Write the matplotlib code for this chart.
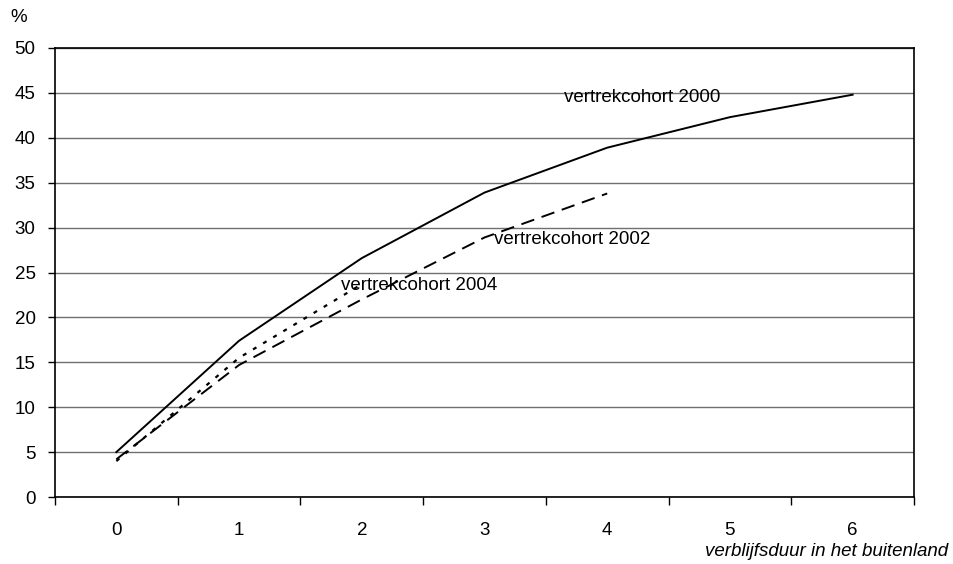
import numpy as np
import matplotlib.pyplot as plt

plt.rcParams['font.family'] = ['Liberation Sans', 'DejaVu Sans']

# duur in jaren (categorie-as)
duur = [0, 1, 2, 3, 4, 5, 6]

# percentage per vertrekcohort
cohort_2000 = [5.0, 17.4, 26.6, 33.9, 38.9, 42.3, 44.8]
cohort_2002 = [4.2, 14.7, 22.0, 28.9, 33.8]
cohort_2004 = [4.0, 15.5, 23.7]

fig = plt.figure(figsize=(9.54, 5.64), dpi=100)
ax = fig.add_axes([55 / 954, 1 - 497 / 564, (914 - 55) / 954, (497 - 48) / 564])

fs = 13.5

# gridlijnen
ax.set_ylim(0, 50)
ax.set_yticks(np.arange(0, 51, 5))
ax.yaxis.grid(True, color='#707070', linewidth=1.0)
ax.set_axisbelow(True)

ax.plot(duur, cohort_2000, color='black', linewidth=1.4, linestyle='-')
ax.plot(duur[:len(cohort_2002)], cohort_2002, color='black', linewidth=1.4,
        linestyle=(0, (7, 4)))
ax.plot(duur[:len(cohort_2004)], cohort_2004, color='black', linewidth=1.6,
        linestyle=(0, (1.8, 3.5)))

ax.text(3.65, 44.5, 'vertrekcohort 2000', fontsize=fs, va='center', ha='left')
ax.text(3.08, 28.7, 'vertrekcohort 2002', fontsize=fs, va='center', ha='left')
ax.text(1.83, 23.6, 'vertrekcohort 2004', fontsize=fs, va='center', ha='left')

# categorie-as: streepjes tussen de categorieen
ax.set_xlim(-0.5, 6.5)
ax.set_xticks(np.arange(-0.5, 7, 1))
ax.set_xticklabels([])
ax.set_xticks(duur, minor=True)
ax.set_xticklabels([str(d) for d in duur], minor=True, fontsize=fs)
ax.tick_params(axis='x', which='major', direction='out', length=6, width=1, color='black')
ax.tick_params(axis='x', which='minor', length=0, pad=18)
ax.tick_params(axis='y', direction='out', length=5, width=1, pad=9, labelsize=fs)

for s in ['left', 'bottom', 'top', 'right']:
    ax.spines[s].set_color('black')
    ax.spines[s].set_linewidth(1.2)

fig.text(10 / 954, 1 - 18 / 564, '%', fontsize=fs, ha='left', va='center')
fig.text(948 / 954, 1 - 552 / 564, 'verblijfsduur in het buitenland', fontsize=fs,
         style='italic', ha='right', va='center')

fig.savefig('out.png', dpi=100)
